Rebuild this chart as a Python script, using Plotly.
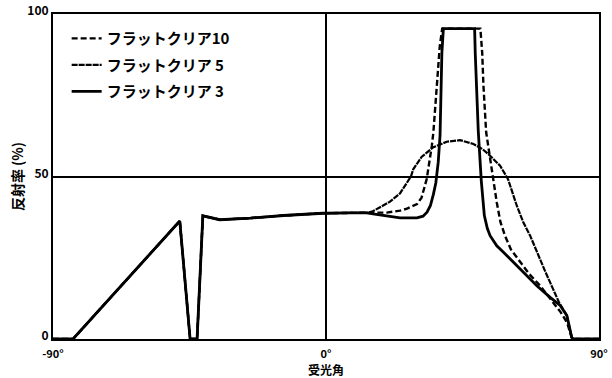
import plotly.graph_objects as go

# ---- data ----
names = ["フラットクリア10", "フラットクリア 5", "フラットクリア 3"]

common_x = [-90, -83.4, -48.2, -44.8, -42.5, -40.6, -35, -25, -14, -1, 8, 13.4]
common_y = [0, 0, 36.3, 0, 0, 37.9, 36.7, 37.2, 38.0, 38.7, 38.8, 38.8]

fc10_x = common_x + [17, 20, 24.4, 26.7, 30, 31.5, 33.2, 34.2, 34.9, 35.4, 36.5, 37.5, 38.3,
                     50.9, 51.5, 51.9, 52.8, 54, 55, 56.3, 57.5, 59, 61, 64, 67, 70.6, 74.1,
                     77.4, 79.5, 81, 81.5, 90]
fc10_y = common_y + [38.8, 38.9, 39.5, 40.1, 41.5, 43.5, 49.2, 55, 59.5, 63.6, 78, 90, 95.5,
                     95.5, 88, 78, 63.6, 56, 50, 42, 36, 31.8, 27.5, 23.6, 20, 16.4, 12.3,
                     8.2, 5, 0.5, 0, 0]

fc5_x = common_x + [15.4, 17.8, 21, 24.4, 28, 28.8, 31.5, 35.4, 39.8, 44.2, 48.6, 51.5, 54.1,
                    57.4, 60, 62.9, 65, 67.3, 70, 72.4, 74.8, 76.8, 79.4, 81, 81.5, 90]
fc5_y = common_y + [39.3, 40.5, 42.2, 44.8, 50, 52.3, 56, 59, 60.7, 61.2, 60, 58.5, 56.4,
                    53.3, 49.2, 41, 36, 31.8, 25.5, 20.5, 15.5, 11.3, 7.2, 0.5, 0, 0]

fc3_x = common_x + [15.5, 18.8, 24.4, 30, 32, 33.3, 34.4, 35.4, 36.2, 37, 37.6, 38.2, 38.7,
                    49, 49.2, 50.2, 51.2, 52.2, 53.2, 54.1, 56.3, 58.5, 61.8, 65.1, 69.5,
                    73.9, 77.2, 79.4, 81, 81.5, 90]
fc3_y = common_y + [38.5, 38, 37.3, 37.3, 37.8, 39, 41, 44.5, 48, 54.4, 62.6, 88, 95.5,
                    95.5, 88, 64, 48.6, 38, 34, 31.8, 28.7, 26.7, 23.6, 20.5, 16.4,
                    12.8, 10.3, 7.2, 0.5, 0, 0]

x_ticks = [-90, 0, 90]
x_labels = ["-90°", "0°", "90°"]
y_ticks = [0, 50, 100]
y_labels = ["0", "50", "100"]
x_title = "受光角"
y_title = "反射率 (%)"

FONT = "Noto Sans CJK JP"

fig = go.Figure()
fig.add_trace(go.Scatter(x=fc10_x, y=fc10_y, mode="lines", name=names[0],
                         line=dict(color="black", width=2.4, dash="6px,3px"),
                         legendgroup="a"))
fig.add_trace(go.Scatter(x=fc5_x, y=fc5_y, mode="lines", name=names[1],
                         line=dict(color="black", width=2.2, dash="6px,1px"),
                         legendgroup="b"))
fig.add_trace(go.Scatter(x=fc3_x, y=fc3_y, mode="lines", name=names[2],
                         line=dict(color="black", width=2.8),
                         legendgroup="c"))

fig.update_layout(
    width=612, height=378,
    margin=dict(l=53, r=13, t=14, b=39),
    paper_bgcolor="white", plot_bgcolor="white",
    font=dict(family=FONT, color="black", size=13, weight="bold"),
    showlegend=True,
    legend=dict(x=0.025, y=0.975, xanchor="left", yanchor="top",
                bgcolor="rgba(0,0,0,0)", borderwidth=0,
                font=dict(family=FONT, size=15, color="black", weight="bold"),
                tracegroupgap=4),
    xaxis=dict(range=[-90, 90], tickvals=x_ticks, ticktext=x_labels,
               showline=True, mirror=True, linecolor="black", linewidth=2,
               showgrid=True, gridcolor="black", gridwidth=1.5,
               zeroline=False, ticks="", ticklabelstandoff=4, automargin=False,
               tickfont=dict(family=FONT, size=11, weight="bold")),
    yaxis=dict(range=[0, 100], tickvals=y_ticks, ticktext=y_labels,
               showline=True, mirror=True, linecolor="black", linewidth=2,
               showgrid=True, gridcolor="black", gridwidth=1.5,
               zeroline=False, ticks="", automargin=False, ticklabelshift=-3,
               tickfont=dict(family=FONT, size=12, weight="bold"),
               title=dict(text=y_title, standoff=0,
                          font=dict(family=FONT, size=14, weight="bold"))),
    annotations=[dict(text=x_title, xref="paper", yref="paper", x=0.5, y=0.0,
                      yshift=-30, borderpad=0,
                      xanchor="center", yanchor="middle", showarrow=False,
                      font=dict(family=FONT, size=12, weight="bold", color="black"))],
)

fig.write_html("out.html")
